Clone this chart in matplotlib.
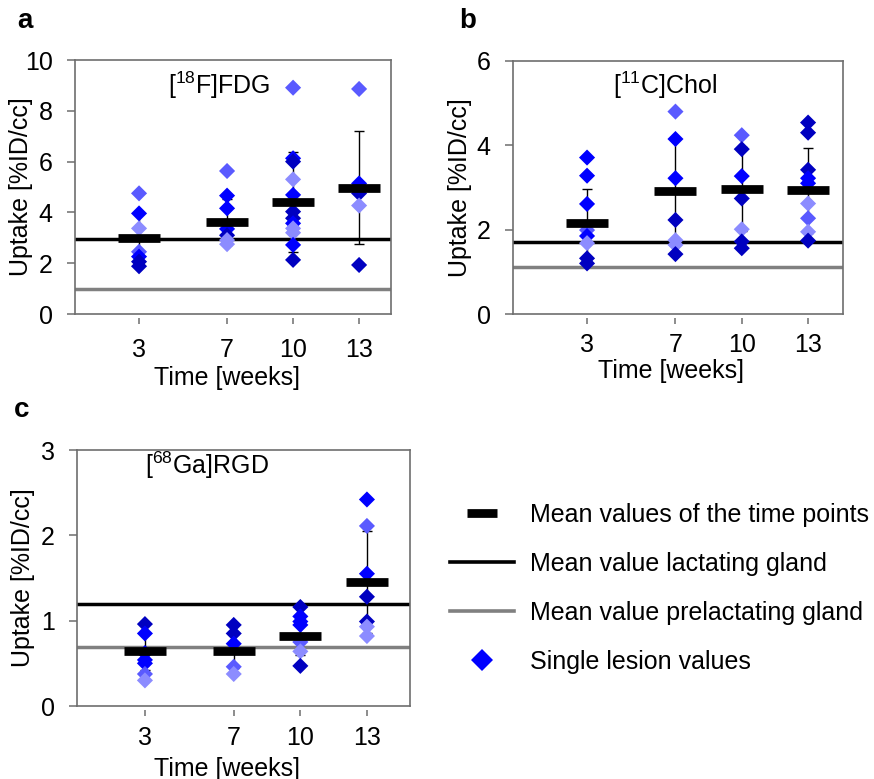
import matplotlib
matplotlib.use("Agg")
import matplotlib.pyplot as plt
from matplotlib.lines import Line2D
from matplotlib.legend_handler import HandlerLine2D

plt.rcParams['font.family'] = ['Liberation Sans', 'DejaVu Sans']
plt.rcParams['mathtext.fontset'] = 'custom'
plt.rcParams['mathtext.rm'] = 'Liberation Sans'
plt.rcParams['mathtext.default'] = 'regular'

# ---------------- data ----------------
weeks = [3, 7, 10, 13]
week_labels = ['3', '7', '10', '13']

shade_colors = {'d': '#0000C0', 'b': '#0000FF', 'm': '#5A5AFF', 'l': '#8C8CFF'}

# [18F]FDG
fdg_w3 = [4.75, 3.96, 3.37, 2.45, 2.26, 2.06, 1.88]
fdg_w3_c = ['m', 'b', 'l', 'm', 'b', 'd', 'd']
fdg_w7 = [5.63, 4.66, 4.16, 3.35, 3.10, 2.91, 2.75]
fdg_w7_c = ['m', 'b', 'b', 'b', 'd', 'l', 'l']
fdg_w10 = [8.91, 6.13, 6.00, 5.30, 4.69, 4.03, 3.77, 3.57, 3.37, 3.20, 2.72, 2.13]
fdg_w10_c = ['m', 'b', 'd', 'l', 'b', 'd', 'd', 'b', 'l', 'l', 'b', 'd']
fdg_w13 = [8.86, 5.14, 4.75, 4.27, 1.93]
fdg_w13_c = ['m', 'b', 'd', 'l', 'd']
fdg_mean = [2.98, 3.61, 4.40, 4.97]
fdg_sd = [0.95, 0.90, 1.97, 2.23]
fdg_lact = 2.95
fdg_prelact = 1.00

# [11C]Chol
chol_w3 = [3.71, 3.28, 2.61, 1.99, 1.85, 1.68, 1.32, 1.20]
chol_w3_c = ['b', 'b', 'b', 'm', 'b', 'l', 'd', 'd']
chol_w7 = [4.80, 4.15, 3.22, 2.23, 1.75, 1.64, 1.42]
chol_w7_c = ['m', 'b', 'b', 'd', 'l', 'l', 'd']
chol_w10 = [4.24, 3.91, 3.27, 2.74, 2.01, 1.72, 1.56]
chol_w10_c = ['m', 'd', 'b', 'd', 'l', 'd', 'd']
chol_w13 = [4.54, 4.30, 3.42, 3.22, 3.10, 2.62, 2.27, 1.95, 1.74]
chol_w13_c = ['d', 'd', 'd', 'b', 'b', 'l', 'm', 'l', 'd']
chol_mean = [2.15, 2.92, 2.96, 2.93]
chol_sd = [0.81, 1.25, 1.00, 1.01]
chol_lact = 1.71
chol_prelact = 1.11

# [68Ga]RGD
rgd_w3 = [0.96, 0.85, 0.62, 0.54, 0.50, 0.375, 0.30]
rgd_w3_c = ['d', 'b', 'b', 'b', 'b', 'm', 'l']
rgd_w7 = [0.95, 0.85, 0.73, 0.46, 0.375]
rgd_w7_c = ['d', 'd', 'b', 'm', 'l']
rgd_w10 = [1.16, 1.05, 0.99, 0.95, 0.75, 0.64, 0.47]
rgd_w10_c = ['d', 'b', 'b', 'b', 'm', 'l', 'd']
rgd_w13 = [2.42, 2.11, 1.55, 1.28, 0.99, 0.93, 0.82]
rgd_w13_c = ['b', 'm', 'b', 'd', 'd', 'l', 'l']
rgd_mean = [0.64, 0.645, 0.82, 1.45]
rgd_sd = [0.22, 0.20, 0.22, 0.60]
rgd_lact = 1.20
rgd_prelact = 0.695

legend_labels = ['Mean values of the time points',
                 'Mean value lactating gland',
                 'Mean value prelactating gland',
                 'Single lesion values']

# ---------------- figure ----------------
FS = 18
SPINE = '#6E6E6E'
fig = plt.figure(figsize=(8.74, 7.79), dpi=100)


def panel(rect, xlim, ylim, yticks, groups, means, sds, lact, prelact,
          title, title_xy, ylab_x, xlab_xy, xpad, letter, letter_xy):
    ax = fig.add_axes(rect)
    ax.axhline(lact, color='black', lw=2.5, zorder=1)
    ax.axhline(prelact, color='#808080', lw=2.5, zorder=1)
    ax.errorbar(weeks, means, yerr=sds, fmt='none', ecolor='black',
                elinewidth=1.0, capsize=3.5, capthick=1.0, zorder=2)
    for wk, (vals, cols) in zip(weeks, groups):
        ax.scatter([wk] * len(vals), vals, marker='D', s=8.2 ** 2,
                   c=[shade_colors[c] for c in cols], linewidths=0, zorder=3)
    ax.plot(weeks, means, ls='none', marker='_', ms=30, mew=6.3,
            color='black', zorder=5)
    ax.set_xlim(*xlim)
    ax.set_ylim(*ylim)
    ax.set_yticks(yticks)
    ax.set_xticks(weeks)
    ax.set_xticklabels(week_labels)
    for s in ax.spines.values():
        s.set_color(SPINE)
        s.set_linewidth(1.2)
    ax.spines['bottom'].set_position(('outward', 3))
    ax.spines['bottom'].set_color('none')
    ax.axhline(ylim[0], color=SPINE, lw=1.2, clip_on=False, zorder=0)
    ax.tick_params(axis='y', direction='out', length=6, width=1.1,
                   color=SPINE, pad=10, labelsize=FS)
    ax.tick_params(axis='x', direction='out', length=4.5, width=1.1,
                   color=SPINE, pad=xpad, labelsize=FS)
    ax.set_ylabel('Uptake [%ID/cc]', fontsize=FS)
    ax.yaxis.set_label_coords(ylab_x, 0.5)
    ax.set_xlabel('Time [weeks]', fontsize=FS)
    ax.xaxis.set_label_coords(*xlab_xy)
    ax.text(title_xy[0], title_xy[1], title, transform=ax.transAxes,
            ha='center', va='center', fontsize=FS)
    fig.text(letter_xy[0], letter_xy[1], letter, fontsize=20,
             fontweight='bold', ha='center', va='center')
    return ax


W, H = 874.0, 779.0


def rect_px(l, r, t, b):
    return [l / W, 1 - b / H, (r - l) / W, (b - t) / H]


panel(rect_px(75, 391, 60, 314), (0.09, 14.45), (0, 10), [0, 2, 4, 6, 8, 10],
      [(fdg_w3, fdg_w3_c), (fdg_w7, fdg_w7_c), (fdg_w10, fdg_w10_c), (fdg_w13, fdg_w13_c)],
      fdg_mean, fdg_sd, fdg_lact, fdg_prelact,
      '[$^{18}$F]FDG', (0.456, 0.90), -0.133, (0.48, -0.203), 9.5,
      'a', (25 / W, 1 - 21 / H))

panel(rect_px(513, 843, 61, 314), (-0.35, 14.58), (0, 6), [0, 2, 4, 6],
      [(chol_w3, chol_w3_c), (chol_w7, chol_w7_c), (chol_w10, chol_w10_c), (chol_w13, chol_w13_c)],
      chol_mean, chol_sd, chol_lact, chol_prelact,
      '[$^{11}$C]Chol', (0.46, 0.905), -0.124, (0.48, -0.176), 6.5,
      'b', (468 / W, 1 - 21 / H))

panel(rect_px(77, 410, 450, 706), (-0.06, 14.94), (0, 3), [0, 1, 2, 3],
      [(rgd_w3, rgd_w3_c), (rgd_w7, rgd_w7_c), (rgd_w10, rgd_w10_c), (rgd_w13, rgd_w13_c)],
      rgd_mean, rgd_sd, rgd_lact, rgd_prelact,
      '[$^{68}$Ga]RGD', (0.39, 0.94), -0.126, (0.45, -0.198), 7.0,
      'c', (22 / W, 1 - 410 / H))


class LeftMarkerHandler(HandlerLine2D):
    def get_xdata(self, legend, xdescent, ydescent, width, height, fontsize):
        xdata = [-xdescent, -xdescent + width]
        return xdata, [-xdescent + 0.25 * width]


handles = [
    Line2D([], [], ls='none', marker='_', ms=22, mew=6.3, color='black'),
    Line2D([], [], color='black', lw=2.6),
    Line2D([], [], color='#808080', lw=2.6),
    Line2D([], [], ls='none', marker='D', ms=11, color='#0000FF', mew=0),
]
fig.legend(handles, legend_labels, loc='upper left',
           bbox_to_anchor=(450 / W, 1 - 503 / H), frameon=False, fontsize=FS,
           handlelength=2.55, handletextpad=0.65, labelspacing=1.0,
           borderpad=0, borderaxespad=0,
           handler_map={handles[0]: LeftMarkerHandler(), handles[3]: LeftMarkerHandler()})

fig.savefig('out.png', dpi=100)
